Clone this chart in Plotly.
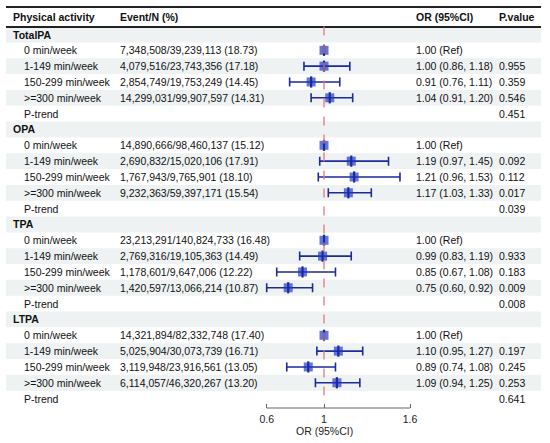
import plotly.graph_objects as go

# table data
groups = ["TotalPA", "OPA", "TPA", "LTPA"]
levels = ["0 min/week", "1-149 min/week", "150-299 min/week", ">=300 min/week"]

event_n = [
    ["7,348,508/39,239,113 (18.73)", "4,079,516/23,743,356 (17.18)",
     "2,854,749/19,753,249 (14.45)", "14,299,031/99,907,597 (14.31)"],
    ["14,890,666/98,460,137 (15.12)", "2,690,832/15,020,106 (17.91)",
     "1,767,943/9,765,901 (18.10)", "9,232,363/59,397,171 (15.54)"],
    ["23,213,291/140,824,733 (16.48)", "2,769,316/19,105,363 (14.49)",
     "1,178,601/9,647,006 (12.22)", "1,420,597/13,066,214 (10.87)"],
    ["14,321,894/82,332,748 (17.40)", "5,025,904/30,073,739 (16.71)",
     "3,119,948/23,916,561 (13.05)", "6,114,057/46,320,267 (13.20)"],
]
or_est = [[1.00, 1.00, 0.91, 1.04],
          [1.00, 1.19, 1.21, 1.17],
          [1.00, 0.99, 0.85, 0.75],
          [1.00, 1.10, 0.89, 1.09]]
or_lo = [[None, 0.86, 0.76, 0.91],
         [None, 0.97, 0.96, 1.03],
         [None, 0.83, 0.67, 0.60],
         [None, 0.95, 0.74, 0.94]]
or_hi = [[None, 1.18, 1.11, 1.20],
         [None, 1.45, 1.53, 1.33],
         [None, 1.19, 1.08, 0.92],
         [None, 1.27, 1.08, 1.25]]
pvals = [["", "0.955", "0.359", "0.546"],
         ["", "0.092", "0.112", "0.017"],
         ["", "0.933", "0.183", "0.009"],
         ["", "0.197", "0.245", "0.253"]]
ptrend = ["0.451", "0.039", "0.008", "0.641"]

W, H = 550, 443
FONT = "Liberation Sans, Arial, sans-serif"
FS = 10.5
ROW0, ROWH = 34.5, 15.83  # pixel y of first row, row height
BOTTOM = 35


def px2row(py):
    return (py - ROW0) / ROWH


def px2paper(px):
    return px / W


def py2paper(py):
    # paper y for a pixel row below/inside the plot area
    return (H - BOTTOM - py) / (H - BOTTOM)


rows = []  # (label, indent, bold, eventn, ortext, p, est, lo, hi)
for g, grp in enumerate(groups):
    rows.append((grp, False, True, "", "", "", None, None, None))
    for k, lev in enumerate(levels):
        est, lo, hi = or_est[g][k], or_lo[g][k], or_hi[g][k]
        if lo is None:
            ortxt = f"{est:.2f} (Ref)"
        else:
            ortxt = f"{est:.2f} ({lo:.2f}, {hi:.2f})"
        rows.append((lev, True, False, event_n[g][k], ortxt, pvals[g][k], est, lo, hi))
    rows.append(("P-trend", True, False, "", "", ptrend[g], None, None, None))

n = len(rows)
fig = go.Figure()

shapes = []
annots = []
# alternating stripes
for r in range(n):
    if r % 2 == 0:
        shapes.append(dict(type="rect", xref="paper", yref="y", x0=px2paper(6), x1=px2paper(541),
                           y0=r - 0.5, y1=r + 0.5, fillcolor="#eef2f3", line=dict(width=0), layer="below"))

# header rules
for py in (7, 27):
    shapes.append(dict(type="line", xref="paper", yref="y", x0=px2paper(6), x1=px2paper(541),
                       y0=px2row(py), y1=px2row(py), line=dict(color="#222222", width=1.8)))

headers = [("Physical activity", 11), ("Event/N (%)", 118), ("OR (95%CI)", 414), ("P.value", 497)]
for txt, x in headers:
    annots.append(dict(text=f"<b>{txt}</b>", x=px2paper(x), y=px2row(17), xref="paper", yref="y",
                       xanchor="left", yanchor="middle", showarrow=False,
                       font=dict(family=FONT, size=FS, color="#111111")))

for r, (lab, indent, bold, ev, ortxt, p, est, lo, hi) in enumerate(rows):
    cells = [(f"<b>{lab}</b>" if bold else lab, 22 if indent else 11), (ev, 118), (ortxt, 414), (p, 497)]
    for txt, x in cells:
        if not txt:
            continue
        annots.append(dict(text=txt, x=px2paper(x), y=r, xref="paper", yref="y",
                           xanchor="left", yanchor="middle", showarrow=False,
                           font=dict(family=FONT, size=FS, color="#111111")))

# reference line at OR = 1
shapes.append(dict(type="line", xref="x", yref="y", x0=1, x1=1, y0=-0.5, y1=23.1,
                   line=dict(color="#e07b7b", width=1.3, dash="dash")))
# axis line from 0.6 to 1.6
shapes.append(dict(type="line", xref="x", yref="paper", x0=0.6, x1=1.6, y0=0, y1=0,
                   line=dict(color="#666666", width=1)))

ci_y = [r for r, row in enumerate(rows) if row[7] is not None]
ci_est = [rows[r][6] for r in ci_y]
ci_lo = [rows[r][7] for r in ci_y]
ci_hi = [rows[r][8] for r in ci_y]
ref_y = [r for r, row in enumerate(rows) if row[6] is not None and row[7] is None]
ref_est = [rows[r][6] for r in ref_y]

CI_COL = "#1c2a9c"
BOX_COL = "rgba(30,55,200,0.68)"

fig.add_trace(go.Scatter(
    x=ci_est, y=ci_y, mode="markers",
    marker=dict(symbol="square", size=9, color=BOX_COL, line=dict(width=0)),
    error_x=dict(type="data", symmetric=False,
                 array=[h - e for h, e in zip(ci_hi, ci_est)],
                 arrayminus=[e - l for e, l in zip(ci_est, ci_lo)],
                 color=CI_COL, thickness=1.6, width=4.5),
    cliponaxis=False, showlegend=False, hoverinfo="skip"))
fig.add_trace(go.Scatter(
    x=ref_est, y=ref_y, mode="markers",
    marker=dict(symbol="square", size=9, color=BOX_COL, line=dict(width=0)),
    cliponaxis=False, showlegend=False, hoverinfo="skip"))
fig.add_trace(go.Scatter(
    x=ci_est + ref_est, y=ci_y + ref_y, mode="markers",
    marker=dict(symbol="line-ns", size=8, line=dict(width=2.2, color=CI_COL)),
    cliponaxis=False, showlegend=False, hoverinfo="skip"))

annots.append(dict(text="OR (95%CI)", x=1.0, y=py2paper(431), xref="x", yref="paper",
                   xanchor="center", yanchor="middle", showarrow=False,
                   font=dict(family=FONT, size=FS, color="#222222")))

# x scale: 0.6 -> 266.7 px, 1.6 -> 410 px
ppu = (410 - 266.7) / 1.0
x_left = 0.6 - 266.7 / ppu
x_right = 1.6 + (W - 410) / ppu
fig.update_layout(
    width=W, height=H,
    margin=dict(l=0, r=0, t=0, b=BOTTOM),
    paper_bgcolor="white", plot_bgcolor="rgba(0,0,0,0)",
    shapes=shapes, annotations=annots,
    xaxis=dict(range=[x_left, x_right], tickvals=[0.6, 1, 1.6], ticktext=["0.6", "1", "1.6"],
               ticks="inside", ticklen=4, tickcolor="#666666", tickwidth=1,
               showgrid=False, zeroline=False, showline=False, ticklabelstandoff=3,
               tickfont=dict(family=FONT, size=FS, color="#222222")),
    yaxis=dict(range=[px2row(H - BOTTOM), px2row(0)], visible=False,
               showgrid=False, zeroline=False),
)

fig.write_html("out.html", config={"displayModeBar": False},
               post_script="document.body.style.margin='0';")
